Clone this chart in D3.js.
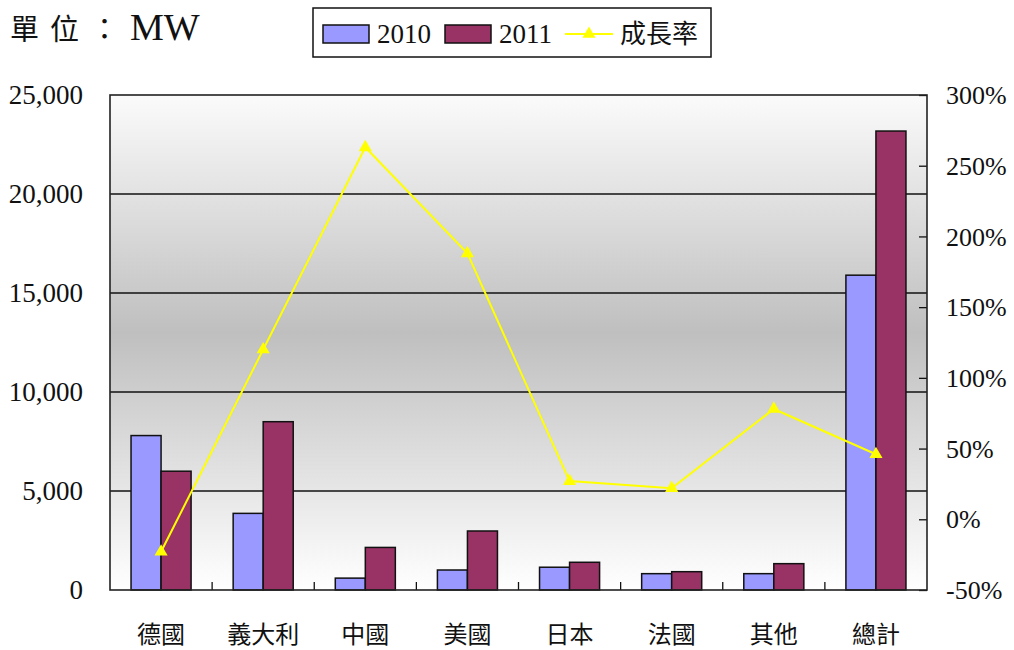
<!DOCTYPE html>
<html><head><meta charset="utf-8">
<script src="https://cdn.jsdelivr.net/npm/d3@7"></script>
<style>body{margin:0;background:#fff}</style>
</head><body><svg id="c" width="1014" height="650"></svg>
<script>
const categories = ["德國","義大利","中國","美國","日本","法國","其他","總計"];
const values2010 = [7800,3870,600,1010,1150,825,825,15900];
const values2011 = [6000,8500,2150,2980,1400,925,1330,23180];
const growth = [-23,120,263,188,27,22,78,46];
const leftTicks = [0,5000,10000,15000,20000,25000];
const rightTicks = [-50,0,50,100,150,200,250,300];
const seriesNames = ["2010","2011","成長率"];
const unitLabelCJK = "單位：";
const unitLabelUnit = "MW";

const colors = {"2010":"#9999ff","2011":"#993366","成長率":"#ffff00"};
const serif = "'Liberation Serif','Times New Roman','Noto Sans CJK TC',serif";
const sans = "'Noto Sans CJK TC','Noto Sans',sans-serif";

const svg = d3.select("#c");
const L = 110, R = 927, T = 95, B = 590;

const x = d3.scaleBand().domain(categories).range([L, R]);
const bw = x.bandwidth();
const xs = d3.scaleBand().domain(["2010","2011"]).range([bw*0.206, bw*0.794]);
const y = d3.scaleLinear().domain([0,25000]).range([B, T]);
const y2 = d3.scaleLinear().domain([-50,300]).range([B, T]);

// gradient background
const defs = svg.append("defs");
const grad = defs.append("linearGradient").attr("id","bg").attr("x1",0).attr("y1",0).attr("x2",0).attr("y2",1);
grad.append("stop").attr("offset","0%").attr("stop-color","#fbfbfb");
grad.append("stop").attr("offset","48%").attr("stop-color","#bfbfbf");
grad.append("stop").attr("offset","100%").attr("stop-color","#ffffff");
svg.append("rect").attr("x",L).attr("y",T).attr("width",R-L).attr("height",B-T).attr("fill","url(#bg)");

// gridlines
svg.append("g").selectAll("line").data(leftTicks.filter(d=>d>0 && d<25000)).join("line")
  .attr("x1",L).attr("x2",R).attr("y1",d=>y(d)).attr("y2",d=>y(d))
  .attr("stroke","#111").attr("stroke-width",1.3);

// bars
const data = categories.map((c,i)=>({c, v2010:values2010[i], v2011:values2011[i], g:growth[i]}));
const gb = svg.append("g");
["2010","2011"].forEach(s=>{
  gb.selectAll("rect.b"+s).data(data).join("rect").attr("class","b"+s)
    .attr("x",d=>x(d.c)+xs(s)).attr("width",xs.bandwidth())
    .attr("y",d=>y(d["v"+s])).attr("height",d=>B-y(d["v"+s]))
    .attr("fill",colors[s]).attr("stroke","#111").attr("stroke-width",1.5);
});

// left axis labels
svg.append("g").attr("transform",`translate(${L},0)`)
  .call(d3.axisLeft(y).tickValues(leftTicks).tickSize(0).tickPadding(27).tickFormat(d3.format(",")))
  .call(g=>g.select(".domain").remove())
  .selectAll("text").attr("font-family",serif).attr("font-size",27).attr("fill","#111");

// right axis
svg.append("g").attr("transform",`translate(${R},0)`)
  .call(d3.axisLeft(y2).tickValues(rightTicks).tickSize(8).tickFormat(""))
  .call(g=>g.select(".domain").remove())
  .selectAll("line").attr("stroke","#111").attr("stroke-width",1.3);
svg.append("g").selectAll("text").data(rightTicks).join("text")
  .attr("x",R+19).attr("y",d=>y2(d)).attr("dy","0.35em")
  .attr("font-family",serif).attr("font-size",26).attr("fill","#111")
  .text(d=>d+"%");

// bottom category ticks (inside)
svg.append("g").selectAll("line").data(categories.slice(1)).join("line")
  .attr("x1",d=>x(d)).attr("x2",d=>x(d)).attr("y1",B).attr("y2",B-8)
  .attr("stroke","#111").attr("stroke-width",1.3);
svg.append("g").selectAll("text").data(categories).join("text")
  .attr("x",d=>x(d)+bw/2).attr("y",635).attr("dy","0.35em").attr("text-anchor","middle")
  .attr("font-family",sans).attr("font-size",24).attr("fill","#111").text(d=>d);

// plot border
svg.append("rect").attr("x",L).attr("y",T).attr("width",R-L).attr("height",B-T)
  .attr("fill","none").attr("stroke","#222").attr("stroke-width",1.6);

// growth line
const line = d3.line().x(d=>x(d.c)+bw/2).y(d=>y2(d.g));
svg.append("path").datum(data).attr("d",line).attr("fill","none")
  .attr("stroke",colors["成長率"]).attr("stroke-width",2);
svg.append("g").selectAll("path").data(data).join("path")
  .attr("transform",d=>`translate(${x(d.c)+bw/2},${y2(d.g)})`)
  .attr("d",d3.symbol(d3.symbolTriangle).size(75)).attr("fill",colors["成長率"]);

// title
const title = svg.append("text").attr("x",10).attr("y",40).attr("fill","#111");
title.append("tspan").attr("font-family",sans).attr("font-size",29).attr("letter-spacing",11).text(unitLabelCJK);
title.append("tspan").attr("font-family",serif).attr("font-size",38).text(unitLabelUnit);

// legend
const lg = svg.append("g");
lg.append("rect").attr("x",313).attr("y",8).attr("width",398).attr("height",49)
  .attr("fill","#fff").attr("stroke","#111").attr("stroke-width",1.5);
const items = [
  {name:seriesNames[0], x:323, type:"rect"},
  {name:seriesNames[1], x:445, type:"rect"},
  {name:seriesNames[2], x:565, type:"line"}
];
items.forEach(it=>{
  if(it.type==="rect"){
    lg.append("rect").attr("x",it.x).attr("y",25).attr("width",46).attr("height",18)
      .attr("fill",colors[it.name]).attr("stroke","#111").attr("stroke-width",1.5);
    lg.append("text").attr("x",it.x+54).attr("y",34).attr("dy","0.35em")
      .attr("font-family",serif).attr("font-size",27).attr("fill","#111").text(it.name);
  } else {
    lg.append("line").attr("x1",it.x).attr("x2",it.x+48).attr("y1",34).attr("y2",34)
      .attr("stroke",colors[it.name]).attr("stroke-width",2);
    lg.append("path").attr("transform",`translate(${it.x+24},34)`)
      .attr("d",d3.symbol(d3.symbolTriangle).size(75)).attr("fill",colors[it.name]);
    lg.append("text").attr("x",it.x+55).attr("y",34).attr("dy","0.35em")
      .attr("font-family",sans).attr("font-size",26).attr("fill","#111").text(it.name);
  }
});
</script></body></html>
